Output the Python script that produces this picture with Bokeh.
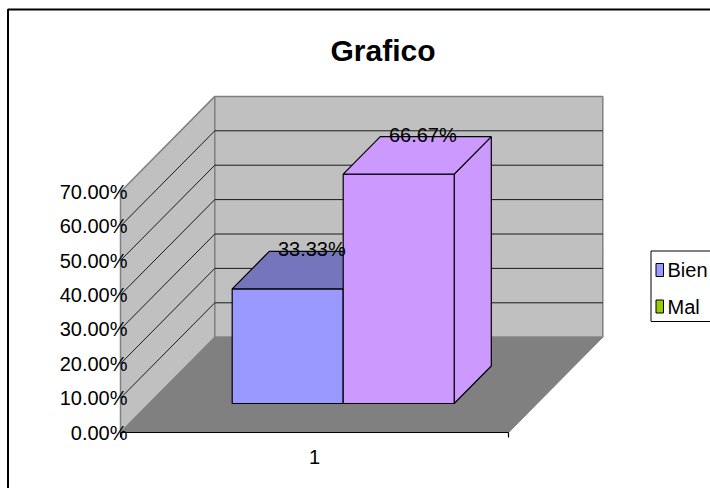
from bokeh.plotting import figure
from bokeh.models import Range1d
from bokeh.core.properties import value
from bokeh.embed import file_html
from bokeh.resources import INLINE

# ---------------- data ----------------
title_text = "Grafico"
categories = ["1"]
series_names = ["Bien", "Mal"]
bar_values = [0.3333, 0.6667]
bar_labels = ["33.33%", "66.67%"]
tick_values = [0.0, 0.1, 0.2, 0.3, 0.4, 0.5, 0.6, 0.7]
tick_labels = ["0.00%", "10.00%", "20.00%", "30.00%", "40.00%", "50.00%", "60.00%", "70.00%"]
legend_names = ["Bien", "Mal"]
legend_colors = ["#9999FF", "#99CC00"]
bar_front_colors = ["#9999FF", "#CC99FF"]
bar_top_colors = ["#7575BD", "#CC99FF"]
bar_side_colors = ["#7575BD", "#CC99FF"]

# ---------------- layout / style ----------------
W, H = 710, 488
ZERO_PY = 432.0          # picture y of value 0 on the front plane
PX_PER_UNIT = 344.0      # pixels per 1.0 (=100%)
AXIS_MAX = tick_values[-1]
WALL_X0, WALL_X1 = 120.0, 508.0
DEPTH_DX, DEPTH_DY = 94.3, 95.3
BAR_D0 = 29.0 / DEPTH_DY
BAR_D1 = 66.5 / DEPTH_DY
BAR_W = 111.0
CAT_CENTER = (WALL_X0 + WALL_X1) / 2
LABEL_DX, LABEL_DY = -13.0, 2.0
FONT = "Liberation Sans"


def vy(py):
    return (ZERO_PY - py) / PX_PER_UNIT


def px(n):
    return n / PX_PER_UNIT


def proj(x, v, d):
    return x + d * DEPTH_DX, v + d * DEPTH_DY / PX_PER_UNIT


def poly(points):
    return [pt[0] for pt in points], [pt[1] for pt in points]


p = figure(width=W, height=H,
           x_range=Range1d(0, W),
           y_range=Range1d(vy(H), vy(0)),
           x_axis_type=None, y_axis_type=None,
           output_backend="svg", toolbar_location=None, min_border=0)
p.outline_line_color = None
p.background_fill_color = "white"
p.border_fill_color = "white"

# outer chart border
p.quad(left=[7.5], right=[760], top=[vy(9)], bottom=[vy(560)],
       fill_color=None, line_color="black", line_width=2)

# walls and floor
lw = poly([proj(WALL_X0, 0, 0), proj(WALL_X0, AXIS_MAX, 0), proj(WALL_X0, AXIS_MAX, 1), proj(WALL_X0, 0, 1)])
bw = poly([proj(WALL_X0, 0, 1), proj(WALL_X1, 0, 1), proj(WALL_X1, AXIS_MAX, 1), proj(WALL_X0, AXIS_MAX, 1)])
fl = poly([proj(WALL_X0, 0, 0), proj(WALL_X1, 0, 0), proj(WALL_X1, 0, 1), proj(WALL_X0, 0, 1)])
p.patches([lw[0], bw[0]], [lw[1], bw[1]], fill_color="#C0C0C0", line_color="#808080", line_width=1.5)
p.patch(fl[0], fl[1], fill_color="#808080", line_color="#808080", line_width=1)

# gridlines
gx0, gy0, gx1, gy1 = [], [], [], []
for v in tick_values[1:-1]:
    a = proj(WALL_X0, v, 0); b = proj(WALL_X0, v, 1); c = proj(WALL_X1, v, 1)
    gx0 += [a[0], b[0]]; gy0 += [a[1], b[1]]; gx1 += [b[0], c[0]]; gy1 += [b[1], c[1]]
p.segment(gx0, gy0, gx1, gy1, line_color="#1a1a1a", line_width=1)

# floor front edge with category ticks
f0 = proj(WALL_X0, 0, 0); f1 = proj(WALL_X1, 0, 0)
p.segment([f0[0], f0[0], f1[0]], [f0[1], f0[1], f1[1]],
          [f1[0], f0[0], f1[0]], [f1[1], f0[1] - px(5), f1[1] - px(5)],
          line_color="black", line_width=1.2)

# value tick labels on the front edge of the left wall
p.text(x=[WALL_X0 + 7] * len(tick_values), y=tick_values, text=tick_labels,
       text_font=value(FONT), text_font_size=value("20px"), text_color="black",
       text_align="right", text_baseline="middle")

# bars
n = len(bar_values)
for i, val in enumerate(bar_values):
    x0 = CAT_CENTER + (i - n / 2) * BAR_W
    x1 = x0 + BAR_W
    side = poly([proj(x1, 0, BAR_D0), proj(x1, 0, BAR_D1), proj(x1, val, BAR_D1), proj(x1, val, BAR_D0)])
    front = poly([proj(x0, 0, BAR_D0), proj(x1, 0, BAR_D0), proj(x1, val, BAR_D0), proj(x0, val, BAR_D0)])
    top = poly([proj(x0, val, BAR_D0), proj(x1, val, BAR_D0), proj(x1, val, BAR_D1), proj(x0, val, BAR_D1)])
    p.patch(side[0], side[1], fill_color=bar_side_colors[i], line_color="black", line_width=1.2)
    p.patch(front[0], front[1], fill_color=bar_front_colors[i], line_color="black", line_width=1.2)
    p.patch(top[0], top[1], fill_color=bar_top_colors[i], line_color="black", line_width=1.2)

# data labels
lx, ly = [], []
for i, val in enumerate(bar_values):
    cx = CAT_CENTER + (i - n / 2) * BAR_W + BAR_W / 2
    pt = proj(cx, val, BAR_D1)
    lx.append(pt[0] + LABEL_DX); ly.append(pt[1] + px(LABEL_DY))
p.text(x=lx, y=ly, text=bar_labels, text_font=value(FONT), text_font_size=value("20px"),
       text_color="black", text_align="center", text_baseline="middle")

# category label
p.text(x=[CAT_CENTER], y=[vy(456)], text=categories, text_font=value(FONT),
       text_font_size=value("20px"), text_color="black", text_align="center", text_baseline="middle")

# title
p.text(x=[382.5], y=[vy(50)], text=[title_text], text_font=value(FONT), text_font_size=value("30px"),
       text_font_style="bold", text_color="black", text_align="center", text_baseline="middle")

# legend
p.quad(left=[650.5], right=[760], top=[vy(250.5)], bottom=[vy(321)],
       fill_color="white", line_color="black", line_width=1)
leg_y = [vy(269.5), vy(306)]
p.quad(left=[655.5] * 2, right=[663] * 2, top=[y + px(6.5) for y in leg_y], bottom=[y - px(6.5) for y in leg_y],
       fill_color=legend_colors, line_color="black", line_width=1)
p.text(x=[667] * 2, y=leg_y, text=legend_names, text_font=value(FONT), text_font_size=value("20px"),
       text_color="black", text_align="left", text_baseline="middle")

open("out.html", "w").write(file_html(p, INLINE))
